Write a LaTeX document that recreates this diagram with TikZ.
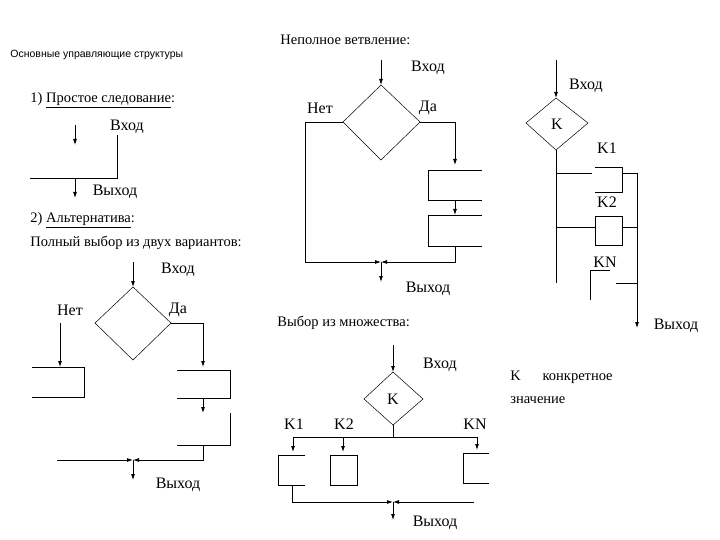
\documentclass[tikz,border=0pt]{standalone}
\usepackage{fontspec}
\setmainfont{Liberation Serif}
\newfontfamily\serf{Liberation Serif}
\newfontfamily\sansf{Liberation Sans}
\usetikzlibrary{arrows.meta}
\begin{document}
\begin{tikzpicture}[x=1pt,y=-1pt,line width=0.8pt,
  lbl/.style={inner sep=0pt,font=\serf\fontsize{16}{18}\selectfont},
  hd/.style={inner sep=0pt,anchor=west,font=\serf\fontsize{14.5}{17}\selectfont},
  ar/.style={-{Latex[length=6pt,width=4pt]}},
  dia/.style={line width=0.5pt}]
\useasboundingbox (0,0) rectangle (720,540);
\node[anchor=west,inner sep=0pt,font=\sansf\fontsize{10.5}{12}\selectfont] (title) at (10,55) {Основные управляющие структуры};
% ---- 1
\node[hd] (h1) at (30,100) {1)\ \underline{Простое следование}:};
\draw[ar] (75,125) -- (75,145);
\node[lbl] (v1) at (127,127) {Вход};
\draw (117,135) -- (117,178) -- (30,178);
\draw[ar] (75,178) -- (75,198);
\node[lbl] (o1) at (115,192) {Выход};
% ---- 2
\node[hd] (h2) at (30,220) {2)\ \underline{Альтернатива}:};
\node[hd] (h3) at (30,243) {Полный выбор из двух вариантов:};
\draw[ar] (133,262) -- (133,287);
\draw[dia] (133,287) -- (171,323) -- (133,360) -- (95,323) -- cycle;
\node[lbl] (v2) at (178,270) {Вход};
\node[lbl] (n2) at (70,310) {Нет};
\node[lbl] (d2) at (178,310) {Да};
\draw[ar] (60,323) -- (60,367);
\draw (32,367) -- (84,367) -- (84,397) -- (32,397);
\draw[ar] (171,323) -- (203,323) -- (203,367);
\draw (177,370) -- (230,370) -- (230,398) -- (177,398);
\draw[ar] (203,398) -- (203,413);
\draw (230,413) -- (230,445) -- (177,445);
\draw[ar] (203,445) -- (203,460) -- (133,460);
\draw[ar] (57,460) -- (133,460);
\draw[ar] (133,460) -- (133,480);
\node[lbl] (o2) at (178,485) {Выход};
% ---- неполное
\node[hd] (h4) at (280,40) {Неполное ветвление:};
\draw[ar] (381,60) -- (381,85);
\node[lbl] (v3) at (428,68) {Вход};
\draw[dia] (381,85) -- (420,122) -- (381,160) -- (343,122) -- cycle;
\node[lbl] (n3) at (320,108) {Нет};
\node[lbl] (d3) at (428,108) {Да};
\draw[ar] (343,122) -- (305,122) -- (305,262) -- (381,262);
\draw[ar] (420,122) -- (455,122) -- (455,165);
\draw (482,170) -- (428,170) -- (428,200) -- (482,200);
\draw[ar] (455,200) -- (455,215);
\draw (482,215) -- (428,215) -- (428,246) -- (482,246);
\draw[ar] (455,246) -- (455,262) -- (381,262);
\draw[ar] (381,262) -- (381,282);
\node[lbl] (o3) at (428,289) {Выход};
% ---- right
\draw[ar] (556,60) -- (556,98);
\node[lbl] (v4) at (586,86) {Вход};
\draw[dia] (556,98) -- (588,123) -- (556,150) -- (526,123) -- cycle;
\node[lbl] (k4) at (557,124) {K};
\draw (556,150) -- (556,283);
\node[lbl] (k41) at (607,148) {K1};
\draw (595,167) -- (622,167) -- (622,192) -- (595,192);
\draw (556,173) -- (592,173);
\draw (622,173) -- (637,173);
\draw[ar] (637,173) -- (637,328);
\node[lbl] (k42) at (607,202) {K2};
\draw (595,216) rectangle (622,245);
\draw (556,227) -- (595,227);
\draw (622,227) -- (637,227);
\node[lbl] (k4n) at (605,262) {KN};
\draw (610,270) -- (590,270) -- (590,300);
\draw (616,283) -- (637,283);
\node[lbl] (o4) at (676,326) {Выход};
% ---- выбор из множества
\node[hd] (h5) at (277,323) {Выбор из множества:};
\draw[ar] (393,345) -- (393,372);
\node[lbl] (v5) at (440,365) {Вход};
\draw[dia] (393,372) -- (423,399) -- (393,425) -- (364,399) -- cycle;
\node[lbl] (k5) at (393,399) {K};
\draw (393,425) -- (393,437);
\draw (293,437) -- (478,437);
\node[lbl] (k51) at (294,424) {K1};
\node[lbl] (k52) at (344,424) {K2};
\node[lbl] (k5n) at (475,424) {KN};
\draw[ar] (293,437) -- (293,452);
\draw[ar] (343,437) -- (343,452);
\draw[ar] (477,437) -- (477,450);
\draw (305,455) -- (278,455) -- (278,485) -- (305,485);
\draw (330,455) rectangle (357,485);
\draw (489,453) -- (463,453) -- (463,483) -- (489,483);
\draw[ar] (292,485) -- (292,502) -- (393,502);
\draw[ar] (474,502) -- (393,502);
\draw[ar] (393,502) -- (393,520);
\node[lbl] (o5) at (435,523) {Выход};
\node[hd] (kk) at (510,377) {K\quad\ \ конкретное};
\node[hd] (kz) at (510,400) {значение};
\end{tikzpicture}
\end{document}
